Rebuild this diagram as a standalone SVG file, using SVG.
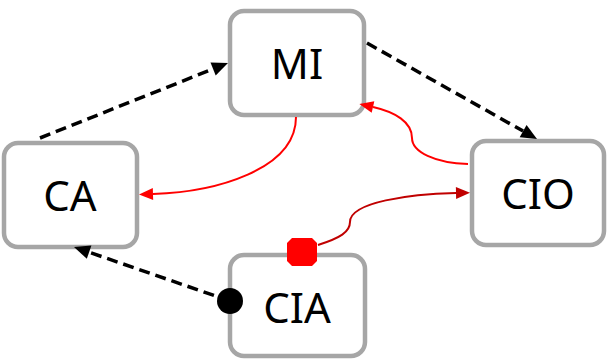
<svg xmlns="http://www.w3.org/2000/svg" width="607" height="361" viewBox="0 0 607 361">
<style>
.box{fill:#ffffff;stroke:#a6a6a6;stroke-width:4.5}
.lbl{font-family:"Noto Sans","Liberation Sans",sans-serif;font-size:42px;fill:#000000;text-anchor:middle}
.dash{fill:none;stroke:#000000;stroke-width:3.5;stroke-dasharray:11,6}
.red{fill:none;stroke:#ff0000;stroke-width:2}
.dred{fill:none;stroke:#c00000;stroke-width:2}
</style>
<defs>
<marker id="ab" markerUnits="userSpaceOnUse" markerWidth="16" markerHeight="14" refX="0" refY="7" orient="auto" overflow="visible"><path d="M0,0 L16,7 L0,14 z" fill="#000000"/></marker>
<marker id="ar" markerUnits="userSpaceOnUse" markerWidth="14" markerHeight="12" refX="0" refY="6" orient="auto" overflow="visible"><path d="M0,0 L14,6 L0,12 z" fill="#ff0000"/></marker>
<marker id="adr" markerUnits="userSpaceOnUse" markerWidth="14" markerHeight="12" refX="0" refY="6" orient="auto" overflow="visible"><path d="M0,0 L14,6 L0,12 z" fill="#c00000"/></marker>
<marker id="dot" markerUnits="userSpaceOnUse" markerWidth="28" markerHeight="28" refX="0" refY="0" orient="0" overflow="visible"><circle cx="0" cy="0" r="13" fill="#000000"/></marker>
</defs>
<g id="MI"><rect class="box" x="230" y="11" width="134" height="104" rx="14"/><text class="lbl" x="297" y="79">MI</text></g>
<g id="CA"><rect class="box" x="4" y="143" width="133" height="104" rx="14"/><text class="lbl" x="70" y="211">CA</text></g>
<g id="CIO"><rect class="box" x="472" y="141" width="132" height="104" rx="14"/><text class="lbl" x="538" y="209">CIO</text></g>
<g id="CIA"><rect class="box" x="230" y="255" width="135" height="101" rx="14"/><text class="lbl" x="297" y="323">CIA</text></g>
<g id="connectors">
<path class="dash" d="M40,138 L213.1,68.9" marker-end="url(#ab)"/>
<path class="dash" d="M367,43 L523.1,131.1" marker-end="url(#ab)"/>
<path class="dash" d="M230,301 L89.1,252.2" marker-start="url(#dot)" marker-end="url(#ab)"/>
<path class="red" d="M296,117 C296,170 215,192 153,194" marker-end="url(#ar)"/>
<path class="red" d="M468,164 C435,163 412,152 412,138 C412,122 395,112 373,107" marker-end="url(#ar)"/>
<path class="dred" d="M318,245 C340,238 350,232 350,222 C350,202 410,194 456,193" marker-end="url(#adr)"/>
<polygon points="292,238 312,238 317,243 317,261 312,266 292,266 287,261 287,243" fill="#ff0000"/>
</g>
</svg>
